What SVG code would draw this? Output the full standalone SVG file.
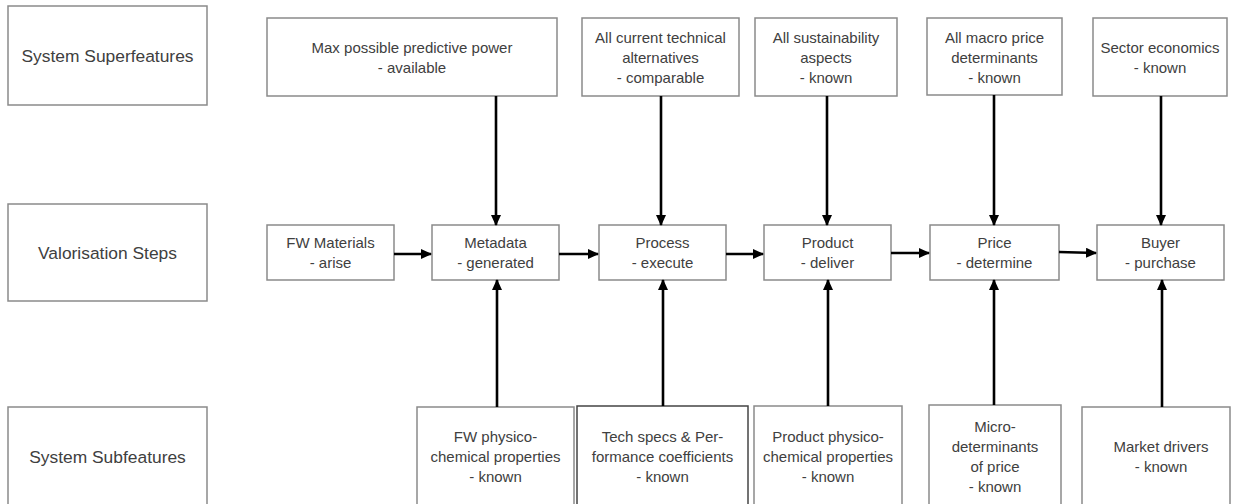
<svg xmlns="http://www.w3.org/2000/svg" width="1233" height="504" viewBox="0 0 1233 504">
<style>
.box{fill:#fff;stroke:#8a8a8a;stroke-width:1.5}
.dark{stroke:#444}
.t{font-family:"Liberation Sans",Arial,sans-serif;font-size:15px;fill:#404040;text-anchor:middle}
.lab{font-family:"Liberation Sans",Arial,sans-serif;font-size:17.4px;fill:#404040;text-anchor:middle}
.c{stroke:#000;stroke-width:2.6;fill:none;marker-end:url(#ah)}
</style>
<defs>
<marker id="ah" markerUnits="userSpaceOnUse" markerWidth="11" markerHeight="10" refX="10" refY="5" orient="auto">
<path d="M0,0 L11,5 L0,10 z" fill="#000"/>
</marker>
</defs>
<rect width="1233" height="504" fill="#fff"/>

<g id="lbl-super"><rect class="box" x="8" y="6" width="199" height="99"/><text class="lab" x="107.5" y="62">System Superfeatures</text></g>
<g id="lbl-steps"><rect class="box" x="8" y="204" width="199" height="97"/><text class="lab" x="107.5" y="259">Valorisation Steps</text></g>
<g id="lbl-sub"><rect class="box" x="8" y="407" width="199" height="110"/><text class="lab" x="107.5" y="463">System Subfeatures</text></g>

<g id="sup1"><rect class="box" x="267" y="18" width="290" height="78"/><text class="t" x="412" y="53">Max possible predictive power</text><text class="t" x="412" y="73">- available</text></g>
<g id="sup2"><rect class="box" x="582" y="18" width="157" height="78"/><text class="t" x="660.5" y="43">All current technical</text><text class="t" x="660.5" y="63">alternatives</text><text class="t" x="660.5" y="83">- comparable</text></g>
<g id="sup3"><rect class="box" x="755" y="18" width="142" height="78"/><text class="t" x="826" y="43">All sustainability</text><text class="t" x="826" y="63">aspects</text><text class="t" x="826" y="83">- known</text></g>
<g id="sup4"><rect class="box" x="927" y="18" width="135" height="77"/><text class="t" x="994.5" y="43">All macro price</text><text class="t" x="994.5" y="63">determinants</text><text class="t" x="994.5" y="83">- known</text></g>
<g id="sup5"><rect class="box" x="1093" y="18" width="134" height="78"/><text class="t" x="1160" y="53">Sector economics</text><text class="t" x="1160" y="73">- known</text></g>

<g id="step0"><rect class="box" x="267" y="225" width="127" height="55"/><text class="t" x="330.5" y="248">FW Materials</text><text class="t" x="330.5" y="268">- arise</text></g>
<g id="step1"><rect class="box" x="432" y="225" width="127" height="55"/><text class="t" x="495.5" y="248">Metadata</text><text class="t" x="495.5" y="268">- generated</text></g>
<g id="step2"><rect class="box" x="599" y="225" width="127" height="55"/><text class="t" x="662.5" y="248">Process</text><text class="t" x="662.5" y="268">- execute</text></g>
<g id="step3"><rect class="box" x="764" y="225" width="127" height="55"/><text class="t" x="827.5" y="248">Product</text><text class="t" x="827.5" y="268">- deliver</text></g>
<g id="step4"><rect class="box" x="930" y="225" width="129" height="55"/><text class="t" x="994.5" y="248">Price</text><text class="t" x="994.5" y="268">- determine</text></g>
<g id="step5"><rect class="box" x="1097" y="225" width="127" height="55"/><text class="t" x="1160.5" y="248">Buyer</text><text class="t" x="1160.5" y="268">- purchase</text></g>

<g id="sub1"><rect class="box" x="417" y="407" width="157" height="110"/><text class="t" x="495.5" y="442">FW physico-</text><text class="t" x="495.5" y="462">chemical properties</text><text class="t" x="495.5" y="482">- known</text></g>
<g id="sub2"><rect class="box dark" x="577" y="406" width="171" height="111"/><text class="t" x="662.5" y="442">Tech specs &amp; Per-</text><text class="t" x="662.5" y="462">formance coefficients</text><text class="t" x="662.5" y="482">- known</text></g>
<g id="sub3"><rect class="box" x="754" y="406" width="148" height="111"/><text class="t" x="828" y="442">Product physico-</text><text class="t" x="828" y="462">chemical properties</text><text class="t" x="828" y="482">- known</text></g>
<g id="sub4"><rect class="box" x="929" y="405" width="132" height="112"/><text class="t" x="995" y="432">Micro-</text><text class="t" x="995" y="452">determinants</text><text class="t" x="995" y="472">of price</text><text class="t" x="995" y="492">- known</text></g>
<g id="sub5"><rect class="box" x="1082" y="407" width="148" height="110"/><text class="t" x="1161" y="452">Market drivers</text><text class="t" x="1161" y="472">- known</text></g>

<g id="connectors">
<line class="c" x1="394" y1="254" x2="431" y2="254"/>
<line class="c" x1="559" y1="254" x2="598" y2="254"/>
<line class="c" x1="726" y1="254" x2="763" y2="254"/>
<line class="c" x1="891" y1="253" x2="929" y2="253"/>
<line class="c" x1="1059" y1="252" x2="1096" y2="253"/>
<line class="c" x1="496" y1="96" x2="496" y2="225"/>
<line class="c" x1="661" y1="96" x2="661" y2="225"/>
<line class="c" x1="827" y1="96" x2="827" y2="225"/>
<line class="c" x1="994" y1="95" x2="994" y2="225"/>
<line class="c" x1="1161" y1="96" x2="1161" y2="225"/>
<line class="c" x1="497" y1="407" x2="497" y2="280"/>
<line class="c" x1="663" y1="406" x2="663" y2="280"/>
<line class="c" x1="828" y1="406" x2="828" y2="280"/>
<line class="c" x1="994" y1="405" x2="994" y2="280"/>
<line class="c" x1="1162" y1="407" x2="1162" y2="280"/>
</g>
</svg>
